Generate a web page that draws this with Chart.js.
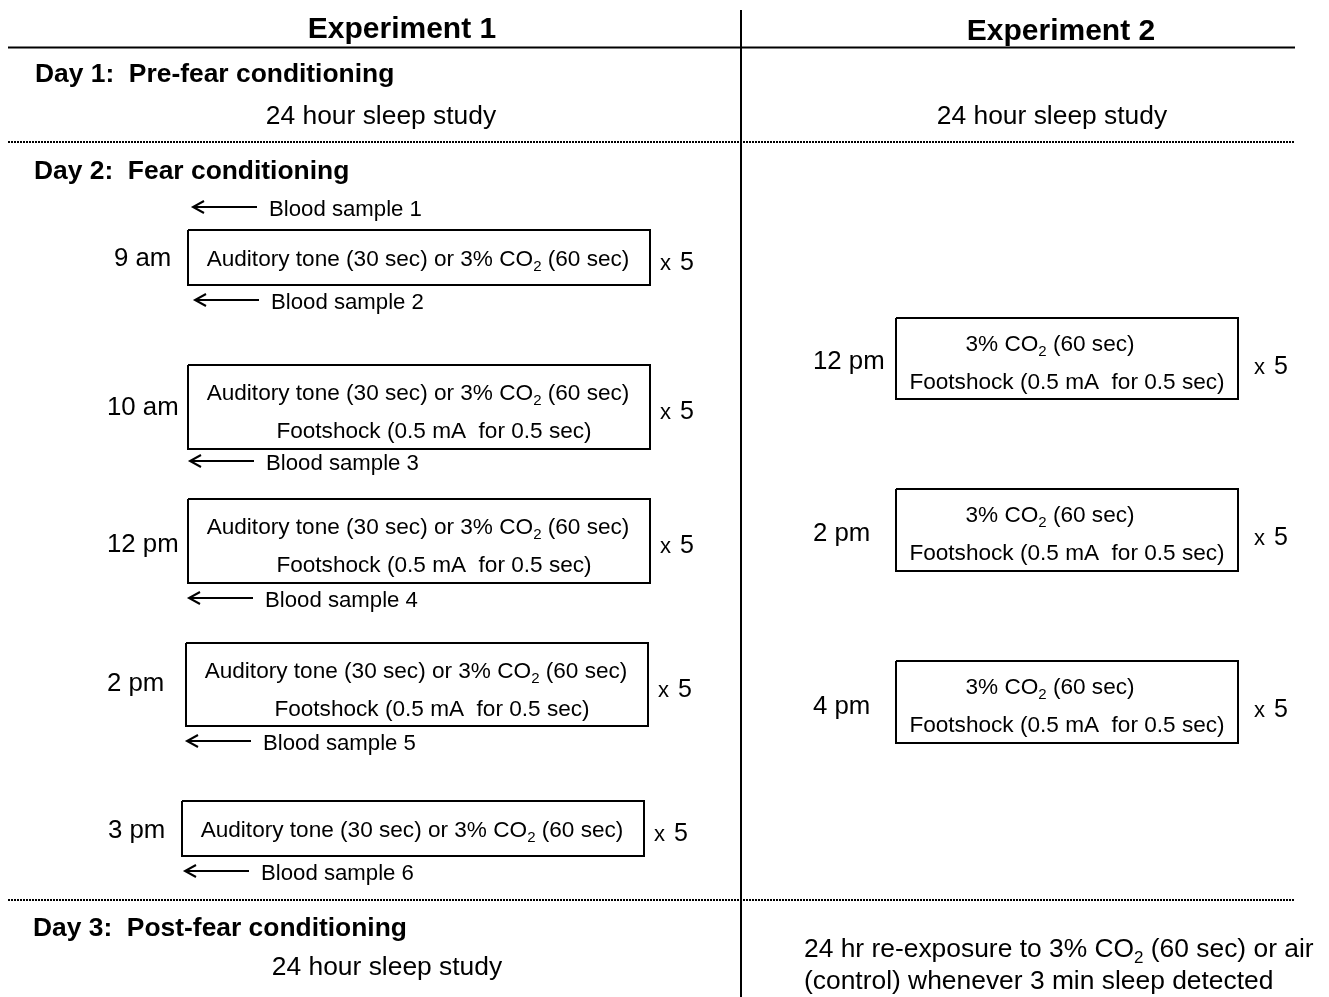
<!DOCTYPE html>
<html>
<head>
<meta charset="utf-8">
<script src="https://cdn.jsdelivr.net/npm/chart.js@4.4.0/dist/chart.umd.min.js"></script>
<style>
  html, body { margin: 0; padding: 0; background: #fff; }
  #wrap { width: 1329px; height: 997px; }
</style>
</head>
<body>
<div id="wrap"><canvas id="chart" width="1329" height="997"></canvas></div>
<script>
// ---- content ----
const columnTitles = ['Experiment 1', 'Experiment 2'];
const dayTitles = ['Day 1:  Pre-fear conditioning', 'Day 2:  Fear conditioning', 'Day 3:  Post-fear conditioning'];
const sleepStudy = '24 hour sleep study';
const toneText = 'Auditory tone (30 sec) or 3% CO_2 (60 sec)';
const shockText = 'Footshock (0.5 mA  for 0.5 sec)';
const co2Text = '3% CO_2 (60 sec)';
const repeatLabel = ['x', '5'];

const exp1Times = ['9 am', '10 am', '12 pm', '2 pm', '3 pm'];
const exp1Lines = [[toneText], [toneText, shockText], [toneText, shockText], [toneText, shockText], [toneText]];
const bloodSamples = ['Blood sample 1', 'Blood sample 2', 'Blood sample 3', 'Blood sample 4', 'Blood sample 5', 'Blood sample 6'];

const exp2Times = ['12 pm', '2 pm', '4 pm'];
const exp2Lines = [co2Text, shockText];
const reexposure = ['24 hr re-exposure to 3% CO_2 (60 sec) or air', '(control) whenever 3 min sleep detected'];

// ---- layout (data units = page pixels) ----
const exp1BoxLeft = [188, 188, 188, 186, 182];
const exp1BoxRight = [650, 650, 650, 648, 644];
const exp1BoxTop = [230, 365, 499, 643, 801];
const exp1BoxBottom = [285, 449, 583, 726, 856];
const exp1TimeX = [114, 107, 107, 107, 108];
const exp1TimeY = [257, 406, 543, 682, 829];
const bloodY = [207, 300, 461, 598, 741, 871];
const bloodX = [193, 195, 190, 189, 187, 185];
const exp2BoxTop = [318, 489, 661];
const exp2BoxBottom = [399, 571, 743];
const exp2TimeY = [360, 532, 705];

const FONT = "'Liberation Sans', Arial, sans-serif";
const DY = 2; // middle baseline sits slightly high

function seg(x1, y1, x2, y2) { return [{x: x1, y: y1}, {x: x2, y: y2}]; }
function rect(l, t, r, b) { return [{x: l, y: t}, {x: r, y: t}, {x: r, y: b}, {x: l, y: b}, {x: l, y: t}]; }
function lineSet(data, width, dash) {
    return {
        data: data, showLine: true, borderColor: '#000', borderWidth: width,
        borderDash: dash || [], pointRadius: 0, tension: 0, fill: false, borderCapStyle: 'butt'
    };
}

const datasets = [];
datasets.push(lineSet(seg(8, 47.5, 1295, 47.5), 2));
datasets.push(lineSet(seg(741, 10, 741, 997), 2));
datasets.push(lineSet(seg(8, 142, 1295, 142), 2, [2, 1]));
datasets.push(lineSet(seg(8, 900, 1295, 900), 2, [2, 1]));
exp1Times.forEach((t, i) => {
    datasets.push(lineSet(rect(exp1BoxLeft[i], exp1BoxTop[i], exp1BoxRight[i], exp1BoxBottom[i]), 2));
});
exp2Times.forEach((t, i) => {
    datasets.push(lineSet(rect(896, exp2BoxTop[i], 1238, exp2BoxBottom[i]), 2));
});
bloodSamples.forEach((s, i) => {
    const x = bloodX[i], y = bloodY[i];
    datasets.push(lineSet(seg(x + 1, y, x + 64, y), 2));
    datasets.push(lineSet([{x: x + 11, y: y - 6}, {x: x, y: y}, {x: x + 11, y: y + 6}], 2));
});

// draw text with "_2" style subscripts
function richWidth(ctx, text, size) {
    const parts = text.split('_');
    let w = 0;
    parts.forEach((p, k) => {
        if (k === 0) { ctx.font = size + 'px ' + FONT; w += ctx.measureText(p).width; return; }
        ctx.font = Math.round(size * 0.66) + 'px ' + FONT; w += ctx.measureText(p[0]).width;
        ctx.font = size + 'px ' + FONT; w += ctx.measureText(p.slice(1)).width;
    });
    return w;
}
function richText(ctx, text, x, y, size, align) {
    const w = richWidth(ctx, text, size);
    let cx = align === 'center' ? x - w / 2 : (align === 'right' ? x - w : x);
    ctx.textAlign = 'left';
    ctx.textBaseline = 'middle';
    y += DY;
    text.split('_').forEach((p, k) => {
        let rest = p;
        if (k > 0) {
            ctx.font = Math.round(size * 0.66) + 'px ' + FONT;
            ctx.fillText(p[0], cx, y + size * 0.32);
            cx += ctx.measureText(p[0]).width;
            rest = p.slice(1);
        }
        ctx.font = size + 'px ' + FONT;
        ctx.fillText(rest, cx, y);
        cx += ctx.measureText(rest).width;
    });
}
function repeatText(ctx, x, y) {
    ctx.textAlign = 'left';
    ctx.textBaseline = 'alphabetic';
    ctx.font = '22px ' + FONT;
    ctx.fillText(repeatLabel[0], x, y + 9);
    ctx.font = '25px ' + FONT;
    ctx.fillText(repeatLabel[1], x + 20, y + 9);
}

const textPlugin = {
    id: 'diagramText',
    afterDatasetsDraw(chart) {
        const ctx = chart.ctx;
        const X = v => chart.scales.x.getPixelForValue(v);
        const Y = v => chart.scales.y.getPixelForValue(v);
        ctx.save();
        ctx.fillStyle = '#000';
        ctx.textBaseline = 'middle';

        ctx.font = 'bold 30px ' + FONT;
        ctx.textAlign = 'center';
        ctx.fillText(columnTitles[0], X(402), Y(28 + DY));
        ctx.fillText(columnTitles[1], X(1061), Y(30 + DY));

        ctx.font = 'bold 26.4px ' + FONT;
        ctx.textAlign = 'left';
        ctx.fillText(dayTitles[0], X(35), Y(73 + DY));
        ctx.fillText(dayTitles[1], X(34), Y(170 + DY));
        ctx.fillText(dayTitles[2], X(33), Y(927 + DY));

        richText(ctx, sleepStudy, X(381), Y(115), 26.4, 'center');
        richText(ctx, sleepStudy, X(1052), Y(115), 26.4, 'center');
        richText(ctx, sleepStudy, X(387), Y(966), 26.4, 'center');
        richText(ctx, reexposure[0], X(804), Y(948), 26.4, 'left');
        richText(ctx, reexposure[1], X(804), Y(980), 26.4, 'left');

        exp1Times.forEach((t, i) => {
            const top = exp1BoxTop[i], bot = exp1BoxBottom[i];
            const cx = (exp1BoxLeft[i] + exp1BoxRight[i]) / 2;
            const mid = (top + bot) / 2;
            richText(ctx, t, X(exp1TimeX[i]), Y(exp1TimeY[i]), 25.8, 'left');
            repeatText(ctx, X(exp1BoxRight[i] + 10), Y(mid + 3));
            const lines = exp1Lines[i];
            if (lines.length === 1) {
                richText(ctx, lines[0], X(cx - 1), Y(mid), 22.6, 'center');
            } else {
                richText(ctx, lines[0], X(cx - 1), Y(top + 27), 22.6, 'center');
                richText(ctx, lines[1], X(cx + 15), Y(top + 65), 22.6, 'center');
            }
        });

        exp2Times.forEach((t, i) => {
            const top = exp2BoxTop[i], bot = exp2BoxBottom[i];
            const mid = (top + bot) / 2;
            richText(ctx, t, X(813), Y(exp2TimeY[i]), 25.8, 'left');
            repeatText(ctx, X(1254), Y(mid + 6));
            richText(ctx, exp2Lines[0], X(1050), Y(top + 25), 22.6, 'center');
            richText(ctx, exp2Lines[1], X(1067), Y(top + 63), 22.6, 'center');
        });

        bloodSamples.forEach((s, i) => {
            richText(ctx, s, X(bloodX[i] + 76), Y(bloodY[i] + 1), 22.2, 'left');
        });
        ctx.restore();
    }
};

new Chart(document.getElementById('chart').getContext('2d'), {
    type: 'scatter',
    data: { datasets: datasets },
    options: {
        responsive: false,
        animation: false,
        layout: { padding: 0 },
        plugins: { legend: { display: false }, tooltip: { enabled: false } },
        scales: {
            x: { type: 'linear', min: 0, max: 1329, display: false },
            y: { type: 'linear', min: 0, max: 997, reverse: true, display: false }
        }
    },
    plugins: [textPlugin]
});
</script>
</body>
</html>
